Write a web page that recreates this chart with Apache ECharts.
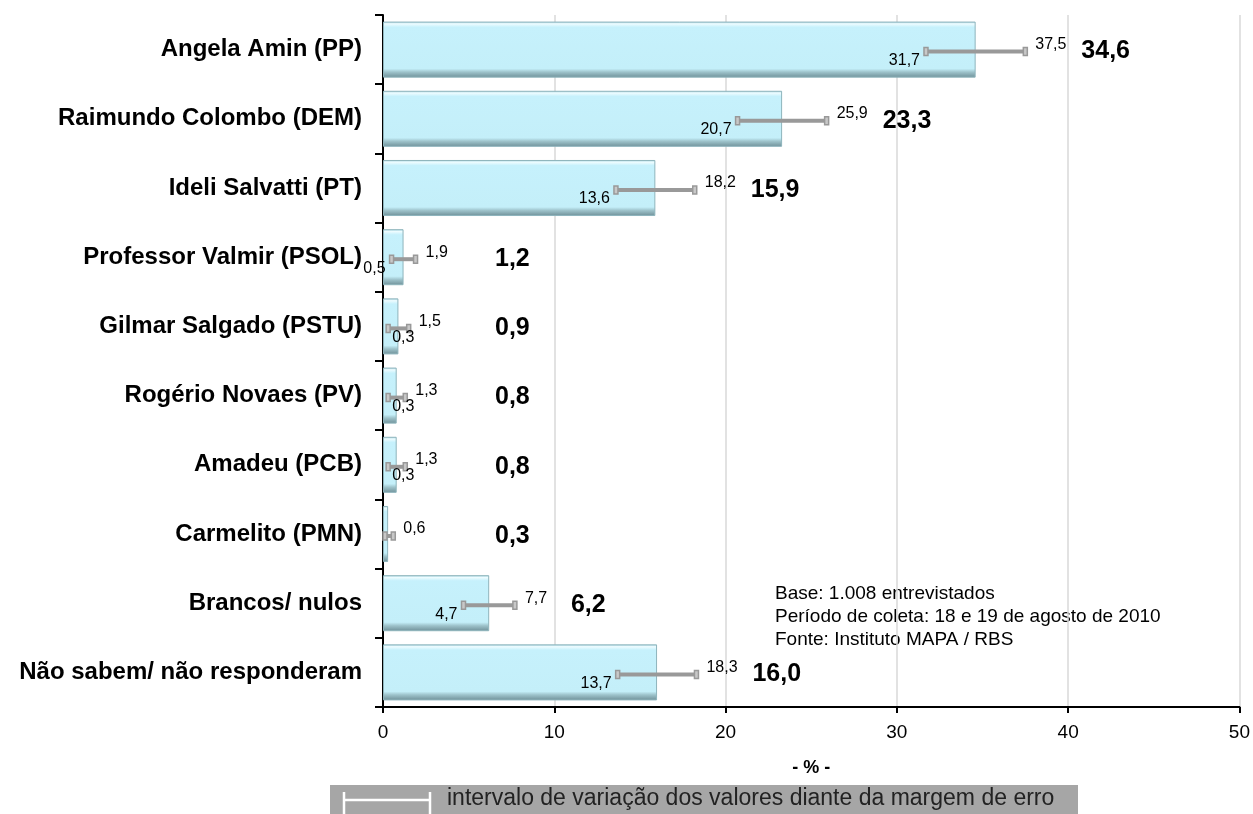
<!DOCTYPE html>
<html>
<head>
<meta charset="utf-8">
<script src="https://cdn.jsdelivr.net/npm/echarts@6/dist/echarts.min.js"></script>
<style>
html,body{margin:0;padding:0;background:#fff;}
#chart{width:1253px;height:814px;}
</style>
</head>
<body>
<div id="chart"></div>
<script>
const categories = ["Angela Amin (PP)","Raimundo Colombo (DEM)","Ideli Salvatti (PT)","Professor Valmir (PSOL)","Gilmar Salgado (PSTU)","Rogério Novaes (PV)","Amadeu (PCB)","Carmelito (PMN)","Brancos/ nulos","Não sabem/ não responderam"];
const values = [34.6, 23.3, 15.9, 1.2, 0.9, 0.8, 0.8, 0.3, 6.2, 16.0];
const lows   = [31.7, 20.7, 13.6, 0.5, 0.3, 0.3, 0.3, 0.0, 4.7, 13.7];
const highs  = [37.5, 25.9, 18.2, 1.9, 1.5, 1.3, 1.3, 0.6, 7.7, 18.3];
const xTicks = [0, 10, 20, 30, 40, 50];

const FONT = "'Liberation Sans', Arial, sans-serif";
const fmt = v => v.toFixed(1).replace('.', ',');

const chart = echarts.init(document.getElementById('chart'));

const errData = categories.map((c, i) => [i, lows[i], highs[i], values[i]]);

function renderErr(params, api) {
  const i = api.value(0);
  const lo = api.value(1), hi = api.value(2), v = api.value(3);
  const pLo = api.coord([lo, i]);
  const pHi = api.coord([hi, i]);
  const y = pLo[1] + 2;
  const x0 = Math.max(pLo[0], params.coordSys.x + 2);
  const col = '#999999';
  const children = [
    {type:'line', shape:{x1:x0, y1:y, x2:pHi[0], y2:y}, style:{stroke:col, lineWidth:4}},
    {type:'rect', shape:{x:x0-2, y:y-4, width:4, height:8}, style:{fill:'#c8c8c8', stroke:col, lineWidth:1.5}},
    {type:'rect', shape:{x:pHi[0]-2, y:y-4, width:4, height:8}, style:{fill:'#c8c8c8', stroke:col, lineWidth:1.5}},
    {type:'text', style:{text:fmt(hi), x:pHi[0]+10, y:y-7, font:'16px ' + FONT, fill:'#000', textAlign:'left', textVerticalAlign:'middle'}}
  ];
  if (lo > 0) {
    if (lo >= 0.5) {
      children.push({type:'text', style:{text:fmt(lo), x:pLo[0]-6, y:y+9, font:'16px ' + FONT, fill:'#000', textAlign:'right', textVerticalAlign:'middle'}});
    } else {
      children.push({type:'text', style:{text:fmt(lo), x:pLo[0]+4, y:y+9, font:'16px ' + FONT, fill:'#000', textAlign:'left', textVerticalAlign:'middle'}});
    }
  }
  const vx = Math.max(pHi[0] + 56, params.coordSys.x + 112);
  children.push({type:'text', style:{text:fmt(v), x:vx, y:y, font:'bold 25px ' + FONT, fill:'#000', textAlign:'left', textVerticalAlign:'middle'}});
  return {type:'group', children};
}

const option = {
  backgroundColor:'#ffffff',
  animation:false,
  grid:{left:383, right:13, top:15, bottom:107, containLabel:false},
  xAxis:{
    type:'value', min:0, max:50, interval:10,
    axisLine:{show:true, lineStyle:{color:'#000', width:2}},
    axisTick:{show:true, length:6, lineStyle:{color:'#000', width:2}},
    axisLabel:{color:'#000', fontSize:19, fontFamily:FONT, margin:16,
      formatter: v => xTicks.includes(v) ? String(v) : ''},
    splitLine:{show:true, lineStyle:{color:'#d9d9d9', width:1.5}},
    name:'- % -', nameLocation:'middle', nameGap:52,
    nameTextStyle:{color:'#000', fontSize:18, fontWeight:'bold', fontFamily:FONT}
  },
  yAxis:{
    type:'category', data:categories, inverse:true,
    axisLine:{show:true, lineStyle:{color:'#000', width:2}},
    axisTick:{show:true, length:8, lineStyle:{color:'#000', width:2}},
    axisLabel:{color:'#000', fontSize:24, fontWeight:'bold', fontFamily:FONT, margin:21},
    splitLine:{show:false}
  },
  series:[
    {
      type:'bar', data:values, barWidth:'81%',
      itemStyle:{
        color:{type:'linear', x:0, y:0, x2:0, y2:1, colorStops:[
          {offset:0, color:'#9fd3df'},
          {offset:0.04, color:'#eefcff'},
          {offset:0.1, color:'#c6f1fc'},
          {offset:0.84, color:'#c4eff9'},
          {offset:0.9, color:'#9ec3cb'},
          {offset:1, color:'#6e8f97'}
        ]},
        borderColor:'#8eb4bc', borderWidth:1
      },
      z:2
    },
    {
      type:'custom', data:errData, renderItem:renderErr,
      encode:{x:[1,2], y:0}, z:5, clip:false
    }
  ],
  graphic:[
    {type:'text', left:775, top:582, style:{text:'Base: 1.008 entrevistados\nPeríodo de coleta: 18 e 19 de agosto de 2010\nFonte: Instituto MAPA / RBS', font:'19px ' + FONT, fill:'#000', lineHeight:23}},
    {type:'rect', shape:{x:330, y:785, width:748, height:32}, style:{fill:'#a6a6a6'}},
    {type:'line', shape:{x1:344, y1:800, x2:430, y2:800}, style:{stroke:'#fff', lineWidth:2.5}},
    {type:'line', shape:{x1:344, y1:792, x2:344, y2:814}, style:{stroke:'#fff', lineWidth:2.5}},
    {type:'line', shape:{x1:430, y1:792, x2:430, y2:814}, style:{stroke:'#fff', lineWidth:2.5}},
    {type:'text', left:447, top:787, style:{text:'intervalo de variação dos valores diante da margem de erro', font:'23px ' + FONT, fill:'#222'}}
  ]
};
chart.setOption(option);
</script>
</body>
</html>
